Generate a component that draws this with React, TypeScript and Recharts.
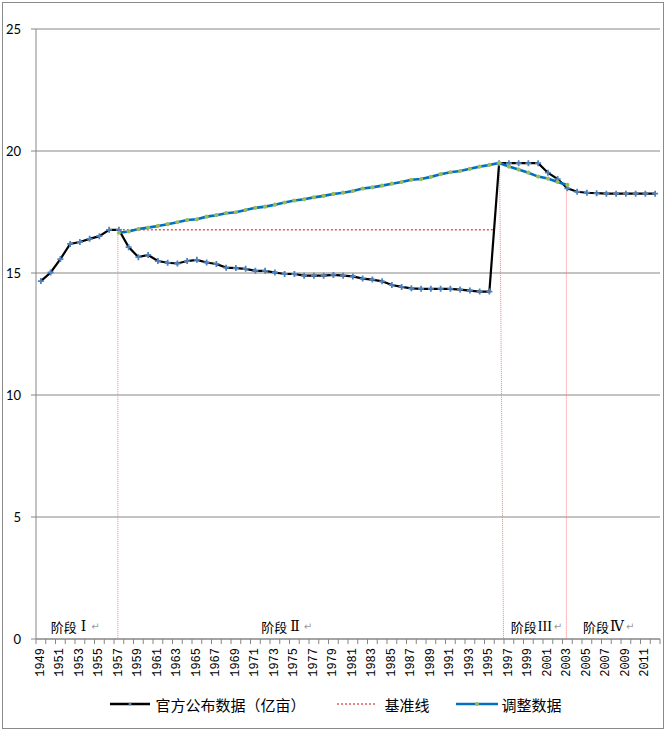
import React from 'react';
import {
    LineChart,
    Line,
    XAxis,
    YAxis,
    CartesianGrid,
    ReferenceLine,
    ReferenceDot,
    Legend
} from 'recharts';

// categories: one point per year, 1949 - 2012
const firstYear = 1949;
const lastYear = 2012;
const years = Array.from({ length: lastYear - firstYear + 1 }, (_, i) => firstYear + i);

// official figures (亿亩), 1949 - 2012
const officialArea = [
    14.67, 15.02, 15.57, 16.19, 16.27, 16.40, 16.51, 16.77, 16.77, 16.06,
    15.65, 15.74, 15.49, 15.42, 15.39, 15.49, 15.54, 15.43, 15.37, 15.22,
    15.20, 15.17, 15.09, 15.09, 15.02, 14.96, 14.96, 14.89, 14.89, 14.89,
    14.92, 14.89, 14.86, 14.77, 14.73, 14.66, 14.51, 14.43, 14.37, 14.35,
    14.35, 14.35, 14.35, 14.32, 14.28, 14.24, 14.24, 19.50, 19.50, 19.50,
    19.50, 19.50, 19.11, 18.85, 18.47, 18.33, 18.29, 18.27, 18.25, 18.25,
    18.25, 18.25, 18.25, 18.25,
];

// adjusted series, 1957 - 2003
const adjustedStart = 1957;
const adjustedArea = [
    16.65, 16.70, 16.80, 16.86, 16.93, 17.00, 17.08, 17.17, 17.20, 17.31,
    17.37, 17.45, 17.49, 17.58, 17.67, 17.72, 17.80, 17.89, 17.97, 18.02,
    18.10, 18.16, 18.24, 18.29, 18.36, 18.46, 18.51, 18.58, 18.66, 18.73,
    18.82, 18.85, 18.94, 19.05, 19.13, 19.18, 19.27, 19.36, 19.43, 19.51,
    19.36, 19.24, 19.11, 18.95, 18.87, 18.73, 18.61,
];

// baseline: flat from 1957 until it meets the official line
const baselineValue = 16.77;
const baselineYears = [1957, 1995.5];

const yTicks = [0, 5, 10, 15, 20, 25];

// dotted dividers between the stages (year at top / bottom, value at top)
const stageDividers = [
    { topYear: 1956.9, footYear: 1956.9, top: 16.65 },
    { topYear: 1996.05, footYear: 1996.45, top: 19.5 },
    { topYear: 2002.9, footYear: 2002.9, top: 18.5 },
];

const stageLabels = [
    { year: 1950.0, numeral: 'Ⅰ', gap: 4 },
    { year: 1971.6, numeral: 'Ⅱ', gap: 3 },
    { year: 1997.2, numeral: 'III', gap: 1 },
    { year: 2004.6, numeral: 'Ⅳ', gap: 1 },
];
const stageLabelLevel = 0.55;

const rows = years.map((year, i) => {
    const k = year - adjustedStart;
    return {
        year,
        official: officialArea[i],
        adjusted: k >= 0 && k < adjustedArea.length ? adjustedArea[k] : null,
    };
});
const baselineRows = baselineYears.map(year => ({ year, baseline: baselineValue }));

// tick marks sit between years, labels on every other year
const boundaryTicks = Array.from({ length: years.length + 1 }, (_, i) => firstYear - 0.5 + i);
const labelYears = years.filter(y => (y - firstYear) % 2 === 0);
const xTicks = [...boundaryTicks, ...labelYears].sort((a, b) => a - b);

const GRID = '#868686';
const CJK = '"Noto Sans CJK SC", sans-serif';

const YearTick = (props: any) => {
    const { x, y, payload } = props;
    const v = payload.value;
    if (!Number.isInteger(v)) {
        return <line x1={x} y1={y} x2={x} y2={y + 5} stroke={GRID} strokeWidth={1} />;
    }
    const ty = y + 9;
    return (
        <text
            x={x}
            y={ty}
            transform={`rotate(-90 ${x} ${ty})`}
            textAnchor="end"
            dominantBaseline="central"
            fontSize={12}
            fontFamily='"Liberation Mono", monospace'
            fill="#000"
        >
            {v}
        </text>
    );
};

const OfficialDot = (props: any) => {
    const { cx, cy, index } = props;
    if (cx == null || cy == null) return <g key={`o-${index}`} />;
    return (
        <path
            key={`o-${index}`}
            d={`M${cx - 3},${cy} L${cx + 3},${cy} M${cx},${cy - 3} L${cx},${cy + 3}`}
            stroke="#4F81BD"
            strokeWidth={1.8}
        />
    );
};

const AdjustedDot = (props: any) => {
    const { cx, cy, index } = props;
    if (cx == null || cy == null) return <g key={`a-${index}`} />;
    return <circle key={`a-${index}`} cx={cx} cy={cy} r={2.1} fill="#9BBB59" />;
};

const StageText = (props: any) => {
    const { cx, cy, numeral, gap } = props;
    return (
        <text x={cx} y={cy} dominantBaseline="central" fontSize={13} fill="#000">
            <tspan fontFamily={CJK}>阶段</tspan>
            <tspan dx={gap} fontFamily='"Liberation Serif", "DejaVu Serif", serif' fontSize={14}>{numeral}</tspan>
            <tspan dx={gap + 1} fill="#999" fontSize={10} fontFamily='"DejaVu Sans", sans-serif'>↵</tspan>
        </text>
    );
};

const ChartLegend = () => (
    <div
        style={{
            height: 24,
            display: 'flex',
            alignItems: 'center',
            justifyContent: 'center',
            paddingLeft: 6,
            fontFamily: CJK,
            fontSize: 15,
            color: '#000',
        }}
    >
        <svg width={40} height={10} style={{ marginRight: 5 }}>
            <line x1={0} y1={5} x2={40} y2={5} stroke="#000" strokeWidth={2.5} />
            <circle cx={20} cy={5} r={1.5} fill="#4F81BD" />
        </svg>
        <span style={{ marginRight: 32 }}>官方公布数据（亿亩）</span>
        <svg width={38} height={10} style={{ marginRight: 9 }}>
            <line x1={0} y1={5} x2={38} y2={5} stroke="#E05A5A" strokeWidth={1.5} strokeDasharray="2 2" />
        </svg>
        <span style={{ marginRight: 26 }}>基准线</span>
        <svg width={42} height={10} style={{ marginRight: 4 }}>
            <line x1={0} y1={5} x2={42} y2={5} stroke="#0070C0" strokeWidth={2.5} />
            <circle cx={21} cy={5} r={2} fill="#9BBB59" />
        </svg>
        <span>调整数据</span>
    </div>
);

export default function App() {
    return (
        <div style={{ position: 'absolute', left: 0, top: 0, width: 667, height: 733, background: '#fff' }}>
            <LineChart
                width={667}
                height={733}
                data={rows}
                margin={{ top: 29, right: 7, bottom: 17, left: 6 }}
            >
                <CartesianGrid vertical={false} stroke={GRID} />
                <XAxis
                    type="number"
                    dataKey="year"
                    domain={[firstYear - 0.5, lastYear + 0.5]}
                    ticks={xTicks}
                    interval={0}
                    tickLine={false}
                    tickSize={0}
                    tickMargin={0}
                    height={53}
                    axisLine={{ stroke: GRID }}
                    tick={<YearTick />}
                />
                <YAxis
                    type="number"
                    domain={[0, 25]}
                    ticks={yTicks}
                    width={30}
                    tickSize={5}
                    tickMargin={10}
                    stroke={GRID}
                    tick={{ fontSize: 13, fill: '#000', fontFamily: 'Lato, sans-serif' }}
                />
                <Legend verticalAlign="bottom" content={<ChartLegend />} />

                {stageDividers.map((d, i) => (
                    <ReferenceLine
                        key={`div-${i}`}
                        segment={[{ x: d.topYear, y: d.top }, { x: d.footYear, y: 0 }]}
                        stroke="#F27E7E"
                        strokeWidth={1}
                        strokeDasharray="1 1"
                    />
                ))}
                {stageLabels.map((s, i) => (
                    <ReferenceDot
                        key={`st-${i}`}
                        x={s.year}
                        y={stageLabelLevel}
                        r={0}
                        shape={(p: any) => <StageText {...p} numeral={s.numeral} gap={s.gap} />}
                    />
                ))}

                <Line
                    type="linear"
                    dataKey="official"
                    name="官方公布数据（亿亩）"
                    stroke="#000"
                    strokeWidth={2.2}
                    dot={OfficialDot}
                    activeDot={false}
                    isAnimationActive={false}
                />
                <Line
                    type="linear"
                    data={baselineRows}
                    dataKey="baseline"
                    name="基准线"
                    stroke="#E05A5A"
                    strokeWidth={1.5}
                    strokeDasharray="2 2"
                    dot={false}
                    activeDot={false}
                    isAnimationActive={false}
                />
                <Line
                    type="linear"
                    dataKey="adjusted"
                    name="调整数据"
                    stroke="#0070C0"
                    strokeWidth={2.6}
                    dot={AdjustedDot}
                    activeDot={false}
                    isAnimationActive={false}
                />
            </LineChart>
            <div
                style={{
                    position: 'absolute',
                    left: 2,
                    top: 2,
                    width: 660,
                    height: 725,
                    border: '1px solid #8a8a8a',
                    pointerEvents: 'none',
                }}
            />
        </div>
    );
}
